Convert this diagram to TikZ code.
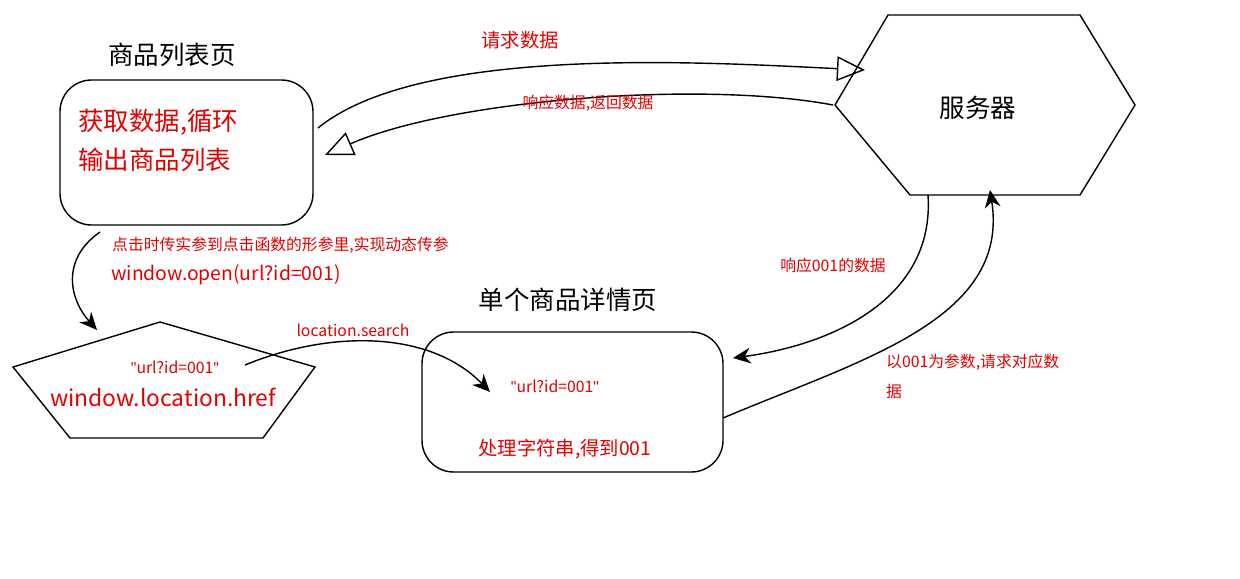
\documentclass[tikz,border=0pt]{standalone}
\usepackage{fontspec}
\setmainfont{Noto Sans CJK SC}
\newfontfamily\qfont[Ligatures=NoCommon]{Liberation Sans}
\usetikzlibrary{arrows.meta}
\newcommand{\dq}{{\qfont\char"22\relax}}
\begin{document}
\begin{tikzpicture}[x=0.02cm,y=-0.02cm,
  red/.style={text=red!90!black},
  big/.style={font=\fontsize{14.5}{17}\selectfont},
  mid/.style={font=\fontsize{11}{13}\selectfont},
  small/.style={font=\fontsize{9}{11}\selectfont},
  box/.style={draw,thick,rounded corners=18},
  conn/.style={thick},
  openhead/.style={-{Triangle[open,length=16,width=14]}},
  solidhead/.style={-{Stealth[length=10,width=9]}}]
\useasboundingbox (0,0) rectangle (1240,578);
% titles
\node[big] (t1) at (172,55) {商品列表页};
\node[big] (t2) at (568,300) {单个商品详情页};
% list box
\draw[box] (60,80) rectangle (313,225);
\coordinate (lbR) at (318,128);
\coordinate (lbRi) at (325,155);
\node[big,red,anchor=west] (l1) at (72,122) {获取数据,循环};
\node[big,red,anchor=west] (l2) at (72,160) {输出商品列表};
% server
\draw[thick] (835,105) -- (888,15) -- (1080,15) -- (1135,105) -- (1080,195) -- (910,195) -- cycle;
\node[big] (srv) at (978,108) {服务器};
\coordinate (sIn) at (865,70);
\coordinate (sOut) at (833,105);
\coordinate (sB1) at (928,195);
\coordinate (sB2) at (990,190);
% top arrows
\draw[conn,openhead] (lbR) .. controls (420,45) and (700,62) .. (sIn);
\node[mid,red] (q1) at (520,40) {请求数据};
\draw[conn,openhead] (sOut) .. controls (700,80) and (450,100) .. (lbRi);
\node[small,red] (q2) at (588,103) {响应数据,返回数据};
% left labels
\node[small,red,anchor=west] (c1) at (106,245) {点击时传实参到点击函数的形参里,实现动态传参};
\node[mid,red,anchor=west] (c2) at (105,275) {window.open(url?id=001)};
\coordinate (d1) at (100,232);
\coordinate (d2) at (97,330);
\draw[conn,solidhead] (d1) .. controls (60,260) and (70,300) .. (d2);
% pentagon
\draw[thick] (160,322) -- (315,367) -- (263,438) -- (70,438) -- (13,367) -- cycle;
\node[small,red] (p1) at (175,367) {\dq url?id=001\dq};
\node[red,font=\fontsize{13}{15}\selectfont] (p2) at (163,397) {window.location.href};
\coordinate (pa) at (245,365);
% detail box
\draw[box] (422,332) rectangle (723,472);
\node[small,red] (d3) at (555,386) {\dq url?id=001\dq};
\node[mid,red] (d4) at (565,449) {处理字符串,得到001};
\coordinate (dIn) at (490,392);
\coordinate (dIn2) at (733,358);
\coordinate (dOut) at (723,418);
\draw[conn,solidhead] (pa) .. controls (330,330) and (430,330) .. (dIn);
\node[small,red] (ls) at (353,330) {location.search};
\draw[conn,solidhead] (sB1) .. controls (935,300) and (830,345) .. (dIn2);
\node[small,red] (r1) at (833,265) {响应001的数据};
\draw[conn,solidhead] (dOut) .. controls (860,360) and (1010,320) .. (sB2);
\node[small,red,anchor=west] (r2) at (880,362) {以001为参数,请求对应数};
\node[small,red,anchor=west] (r3) at (880,392) {据};
\end{tikzpicture}
\end{document}
